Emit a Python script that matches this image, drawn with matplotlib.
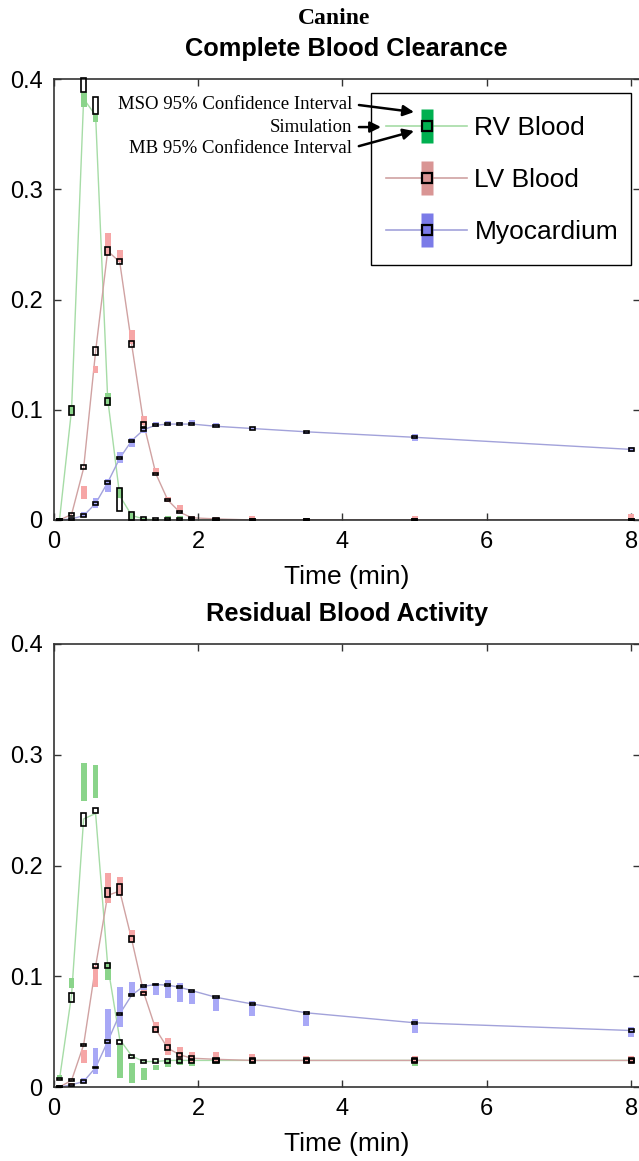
import numpy as np
import matplotlib.pyplot as plt
from matplotlib.lines import Line2D
from matplotlib.patches import Rectangle

plt.rcParams['font.family'] = ['Liberation Sans', 'DejaVu Sans']

# sample times (min)
t = [0.083, 0.25, 0.417, 0.583, 0.75, 0.917, 1.083, 1.25, 1.417, 1.583,
     1.75, 1.917, 2.25, 2.75, 3.5, 5.0, 8.0]

x_ticks = [0, 2, 4, 6, 8]
x_ticklabels = ['0', '2', '4', '6', '8']
y_ticks = [0, 0.1, 0.2, 0.3, 0.4]
y_ticklabels = ['0', '0.1', '0.2', '0.3', '0.4']

series_names = ['RV Blood', 'LV Blood', 'Myocardium']

# ---- complete blood clearance ----
rv_sim_c = [0, 0.100, 0.382, 0.367, 0.110, 0.022, 0.004, 0.001, 0, 0, 0, 0, 0, 0, 0, 0, 0]
rv_mso_c = [(0, 0.002), (0.096, 0.104), (0.375, 0.388), (0.361, 0.368), (0.103, 0.115),
            (0.020, 0.029), (0.001, 0.006), (0, 0.002), (0, 0.001), (0, 0.004), (0, 0.004),
            (0, 0.002), (0, 0.001), (0, 0.001), (0, 0.001), (0, 0.001), (0, 0.001)]
rv_mb_c = [(0, 0.001), (0.095, 0.103), (0.388, 0.401), (0.368, 0.384), (0.104, 0.111),
           (0.008, 0.029), (0, 0.0075), (0, 0.003), (0, 0.0015), (0, 0.0015), (0, 0.0015),
           (0, 0.0015), (0, 0.001), (0, 0.001), (0, 0.001), (0, 0.001), (0, 0.001)]

lv_sim_c = [0, 0.005, 0.047, 0.153, 0.244, 0.234, 0.159, 0.087, 0.042, 0.018, 0.007,
            0.002, 0.001, 0, 0, 0, 0]
lv_mso_c = [(0, 0.001), (0, 0.002), (0.019, 0.031), (0.133, 0.140), (0.240, 0.260),
            (0.234, 0.245), (0.160, 0.172), (0.086, 0.094), (0.041, 0.047), (0.016, 0.021),
            (0.007, 0.014), (0.001, 0.004), (0, 0.003), (0, 0.004), (0, 0.002), (0, 0.004),
            (0, 0.005)]
lv_mb_c = [(0, 0.001), (0.004, 0.006), (0.046, 0.050), (0.150, 0.157), (0.240, 0.248),
           (0.232, 0.237), (0.157, 0.162), (0.084, 0.089), (0.041, 0.043), (0.017, 0.019),
           (0.006, 0.008), (0.001, 0.003), (0, 0.0015), (0, 0.001), (0, 0.001), (0, 0.001),
           (0, 0.001)]

myo_sim_c = [0, 0.001, 0.004, 0.015, 0.034, 0.056, 0.072, 0.082, 0.086, 0.087, 0.087,
             0.087, 0.085, 0.083, 0.080, 0.075, 0.064]
myo_mso_c = [(0, 0.001), (0, 0.002), (0.003, 0.007), (0.011, 0.020), (0.025, 0.037),
             (0.052, 0.062), (0.066, 0.074), (0.079, 0.084), (0.084, 0.089), (0.085, 0.090),
             (0.086, 0.089), (0.086, 0.091), (0.084, 0.088), (0.082, 0.084), (0.078, 0.081),
             (0.072, 0.078), (0.062, 0.066)]
myo_mb_c = [(0, 0.001), (0, 0.002), (0.003, 0.005), (0.014, 0.016), (0.033, 0.035),
            (0.055, 0.057), (0.071, 0.073), (0.081, 0.083), (0.085, 0.087), (0.086, 0.088),
            (0.086, 0.088), (0.086, 0.088), (0.084, 0.086), (0.082, 0.084), (0.079, 0.081),
            (0.074, 0.076), (0.063, 0.065)]

# ---- residual blood activity ----
rv_sim_r = [0.007, 0.083, 0.242, 0.247, 0.110, 0.043, 0.028, 0.023, 0.023, 0.024, 0.024,
            0.024, 0.024, 0.024, 0.024, 0.024, 0.024]
rv_mso_r = [(0.006, 0.011), (0.089, 0.098), (0.258, 0.293), (0.261, 0.291), (0.097, 0.112),
            (0.008, 0.038), (0.004, 0.022), (0.006, 0.017), (0.015, 0.020), (0.018, 0.024),
            (0.020, 0.025), (0.019, 0.025), (0.021, 0.025), (0.021, 0.025), (0.021, 0.025),
            (0.019, 0.025), (0.021, 0.025)]
rv_mb_r = [(0.006, 0.008), (0.077, 0.085), (0.236, 0.247), (0.247, 0.252), (0.107, 0.112),
           (0.039, 0.042), (0.026, 0.029), (0.022, 0.024), (0.022, 0.025), (0.022, 0.025),
           (0.022, 0.025), (0.022, 0.025), (0.022, 0.025), (0.022, 0.025), (0.022, 0.025),
           (0.022, 0.025), (0.022, 0.025)]

lv_sim_r = [0, 0.006, 0.038, 0.109, 0.173, 0.177, 0.133, 0.085, 0.052, 0.035, 0.029,
            0.026, 0.025, 0.024, 0.024, 0.024, 0.024]
lv_mso_r = [(0, 0.002), (0, 0.004), (0.022, 0.033), (0.090, 0.109), (0.166, 0.193),
            (0.173, 0.190), (0.131, 0.142), (0.083, 0.092), (0.049, 0.059), (0.029, 0.044),
            (0.024, 0.036), (0.023, 0.032), (0.023, 0.032), (0.022, 0.030), (0.021, 0.028),
            (0.021, 0.028), (0.021, 0.028)]
lv_mb_r = [(0, 0.001), (0.005, 0.007), (0.037, 0.039), (0.107, 0.111), (0.172, 0.180),
           (0.173, 0.183), (0.131, 0.136), (0.083, 0.086), (0.050, 0.054), (0.033, 0.038),
           (0.027, 0.031), (0.024, 0.028), (0.023, 0.026), (0.023, 0.026), (0.023, 0.026),
           (0.023, 0.026), (0.023, 0.026)]

myo_sim_r = [0, 0.002, 0.005, 0.0175, 0.041, 0.066, 0.083, 0.091, 0.0925, 0.092, 0.090,
             0.087, 0.081, 0.075, 0.067, 0.058, 0.051]
myo_mso_r = [(0, 0.001), (0, 0.002), (0.004, 0.008), (0.012, 0.035), (0.027, 0.070),
             (0.054, 0.090), (0.082, 0.095), (0.088, 0.093), (0.083, 0.094), (0.080, 0.097),
             (0.077, 0.094), (0.075, 0.088), (0.069, 0.082), (0.064, 0.078), (0.055, 0.069),
             (0.049, 0.061), (0.045, 0.054)]
myo_mb_r = [(0, 0.001), (0.001, 0.003), (0.004, 0.006), (0.017, 0.018), (0.040, 0.042),
            (0.065, 0.067), (0.082, 0.084), (0.090, 0.092), (0.092, 0.093), (0.091, 0.093),
            (0.089, 0.091), (0.086, 0.088), (0.080, 0.082), (0.074, 0.076), (0.066, 0.068),
            (0.057, 0.059), (0.050, 0.052)]

line_colors = ['#a6dca6', '#d0a2a2', '#a2a2da']
bar_colors = ['#8ad48a', '#f6a6a6', '#a8a8f6']
legend_bar_colors = ['#00b050', '#d99594', '#7b7be8']


def draw_panel(ax, sims, msos, mbs):
    for sim, col in zip(sims, line_colors):
        ax.plot(t, sim, color=col, lw=1.0, zorder=1)
    for mso, col in zip(msos, bar_colors):
        lo = np.array([p[0] for p in mso])
        hi = np.array([p[1] for p in mso])
        ax.bar(t, hi - lo, bottom=lo, width=0.08, color=col, lw=0, zorder=2)
    for mb in mbs:
        lo = np.array([p[0] for p in mb])
        hi = np.array([p[1] for p in mb])
        ax.bar(t, hi - lo, bottom=lo, width=0.07, fill=False, edgecolor='black',
               lw=1.2, zorder=3, clip_on=False)

    ax.set_xlim(0, 8.12)
    ax.set_ylim(0, 0.4)
    ax.set_xticks(x_ticks)
    ax.set_xticklabels(x_ticklabels)
    ax.set_yticks(y_ticks)
    ax.set_yticklabels(y_ticklabels)
    ax.tick_params(direction='in', top=True, right=True, length=5, width=1,
                   labelsize=17, pad=8, color='#333333')
    for sp in ax.spines.values():
        sp.set_color('#333333')
        sp.set_linewidth(1.2)
    ax.set_xlabel('Time (min)', fontsize=19, labelpad=8.5)


fig = plt.figure(figsize=(6.39, 11.61), dpi=100)
ax1 = fig.add_axes([53.5 / 639, 1 - 520 / 1161, 586.5 / 639, 441 / 1161])
ax2 = fig.add_axes([53.5 / 639, 1 - 1087 / 1161, 586.5 / 639, 443 / 1161])

draw_panel(ax1, [rv_sim_c, lv_sim_c, myo_sim_c], [rv_mso_c, lv_mso_c, myo_mso_c],
           [rv_mb_c, lv_mb_c, myo_mb_c])
draw_panel(ax2, [rv_sim_r, lv_sim_r, myo_sim_r], [rv_mso_r, lv_mso_r, myo_mso_r],
           [rv_mb_r, lv_mb_r, myo_mb_r])

ax1.set_title('Complete Blood Clearance', fontsize=18.3, fontweight='bold', pad=16.5)
ax2.set_title('Residual Blood Activity', fontsize=18.3, fontweight='bold', pad=16.5)
fig.text(334 / 639, 1 - 18 / 1161, 'Canine', family='Liberation Serif', fontweight='bold',
         fontsize=17, ha='center', va='center')

# legend: line + MSO bar + MB box overlaid, frame drawn separately
bar_marker = [(-1, -2.7), (1, -2.7), (1, 2.7), (-1, 2.7), (-1, -2.7)]
handles = []
for lc, bc in zip(line_colors, legend_bar_colors):
    handles.append((Line2D([], [], color=lc, lw=1.2),
                    Line2D([], [], ls='none', marker=bar_marker, ms=25, mfc=bc, mec='none'),
                    Line2D([], [], ls='none', marker='s', ms=7.2, mfc='none', mec='black',
                           mew=1.6)))
leg = ax1.legend(handles, series_names, loc='center left', bbox_to_anchor=(0.567, 0.771),
                 borderaxespad=0, borderpad=0, fontsize=19, handlelength=3.07,
                 handletextpad=0.28, labelspacing=1.06, frameon=False)
leg.set_zorder(6)
ax1.add_patch(Rectangle((0.5413, 0.578), 0.4434, 0.39, transform=ax1.transAxes,
                        facecolor='white', edgecolor='black', lw=1.0, zorder=5))

# annotations pointing at the RV legend entry
notes = [('MSO 95% Confidence Interval', 0.943, (0.6147, 0.925)),
         ('Simulation', 0.891, (0.5584, 0.891)),
         ('MB 95% Confidence Interval', 0.8435, (0.6147, 0.882))]
for txt, ty, tip in notes:
    ax1.annotate(txt, xy=tip, xycoords='axes fraction', xytext=(0.509, ty),
                 textcoords='axes fraction', ha='right', va='center', fontsize=13.5,
                 family='Liberation Serif', zorder=10,
                 arrowprops=dict(arrowstyle='-|>', color='black', lw=1.8,
                                 mutation_scale=16, shrinkA=3, shrinkB=0,
                                 relpos=(1, 0.5)))

fig.savefig('out.png', dpi=100)
